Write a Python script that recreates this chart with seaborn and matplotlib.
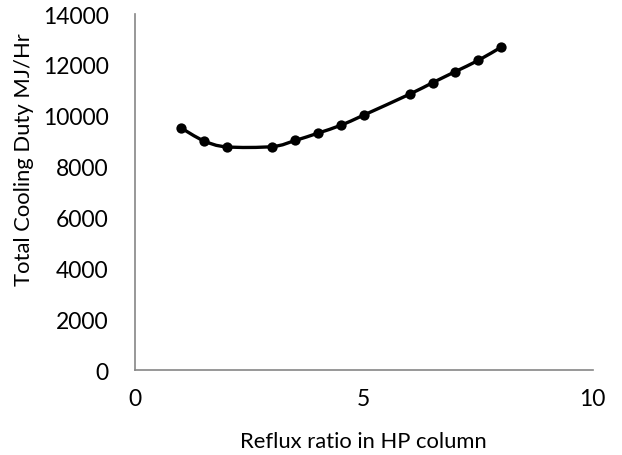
import numpy as np
import pandas as pd
import matplotlib
matplotlib.use("Agg")
import matplotlib.pyplot as plt
from matplotlib.path import Path
from matplotlib.patches import PathPatch
import seaborn as sns

reflux_ratio = [1, 1.5, 2, 3, 3.5, 4, 4.5, 5, 6, 6.5, 7, 7.5, 8]
cooling_duty = [9530, 9020, 8780, 8790, 9030, 9320, 9630, 10030, 10850, 11300, 11740, 12180, 12700]
x_ticks = [0, 5, 10]
y_ticks = [0, 2000, 4000, 6000, 8000, 10000, 12000, 14000]

sns.set_theme(style="white")
plt.rcParams['font.family'] = ['Lato', 'DejaVu Sans']

df = pd.DataFrame({"x": reflux_ratio, "y": cooling_duty})

fig = plt.figure(figsize=(6.22, 4.56), dpi=100)
ax = fig.add_axes([0.217, 0.186, 0.736, 0.781])

# smoothed line (Catmull-Rom style Bezier, like spreadsheet smoothing)
xs = np.array(reflux_ratio, float)
ys = np.array(cooling_duty, float)
n = len(xs)
verts = [(xs[0], ys[0])]
codes = [Path.MOVETO]
for i in range(n - 1):
    p0 = np.array([xs[max(i - 1, 0)], ys[max(i - 1, 0)]])
    p1 = np.array([xs[i], ys[i]])
    p2 = np.array([xs[i + 1], ys[i + 1]])
    p3 = np.array([xs[min(i + 2, n - 1)], ys[min(i + 2, n - 1)]])
    c1 = p1 + (p2 - p0) / 6.0
    c2 = p2 - (p3 - p1) / 6.0
    verts += [tuple(c1), tuple(c2), tuple(p2)]
    codes += [Path.CURVE4] * 3
ax.add_patch(PathPatch(Path(verts, codes), facecolor="none", edgecolor="black", lw=2.4, zorder=2))

sns.scatterplot(data=df, x="x", y="y", ax=ax, color="black", s=55, edgecolor="black", linewidth=0, zorder=3)

ax.set_xlim(0, 10)
ax.set_ylim(0, 14000)
ax.set_xticks(x_ticks)
ax.set_yticks(y_ticks)
ax.tick_params(axis="both", length=0, labelsize=16.5, colors="black")
ax.tick_params(axis="x", pad=13)
ax.tick_params(axis="y", pad=19)
for s in ["top", "right"]:
    ax.spines[s].set_visible(False)
for s in ["left", "bottom"]:
    ax.spines[s].set_color("#868686")
    ax.spines[s].set_linewidth(1.2)
ax.set_xlabel("Reflux ratio in HP column", fontsize=15.8, color="black")
ax.set_ylabel("Total Cooling Duty MJ/Hr", fontsize=15.8, color="black")
ax.xaxis.label.set_va("center")
ax.yaxis.label.set_va("center")
ax.xaxis.set_label_coords(0.5, -0.20)
ax.yaxis.set_label_coords(-0.242, 0.595)
ax.grid(False)

fig.savefig("out.png", dpi=100)
